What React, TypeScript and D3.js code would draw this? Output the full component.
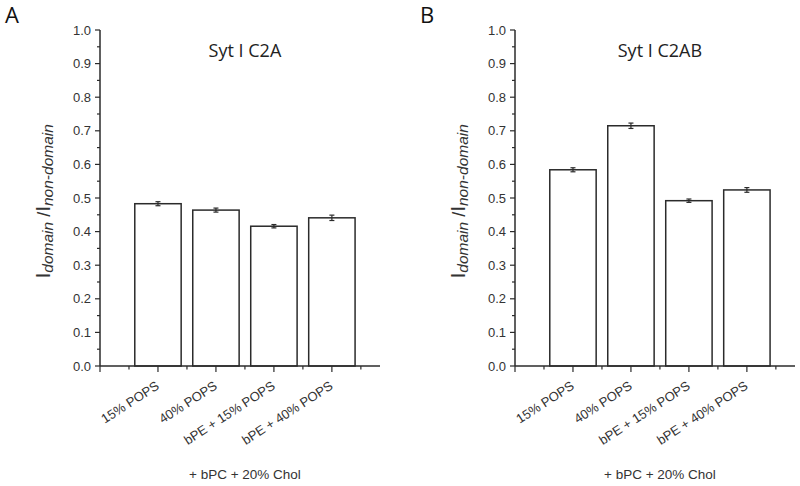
import React from "react";
import * as d3 from "d3";

const categories = ["15% POPS", "40% POPS", "bPE + 15% POPS", "bPE + 40% POPS"];
const valuesA = [0.483, 0.464, 0.416, 0.441];
const errorsA = [0.006, 0.006, 0.005, 0.008];
const valuesB = [0.584, 0.715, 0.492, 0.524];
const errorsB = [0.006, 0.008, 0.005, 0.007];
const yTicks = [0, 0.1, 0.2, 0.3, 0.4, 0.5, 0.6, 0.7, 0.8, 0.9, 1.0];
const titles = ["Syt I C2A", "Syt I C2AB"];
const panelLetters = ["A", "B"];
const xAxisTitle = "+ bPC + 20% Chol";

const STROKE = "#2b2b2b";
const TEXT = "#333";
const SANS = "'Liberation Sans', Arial, Helvetica, sans-serif";
const TITLE_FONT = "'Open Sans', sans-serif";

function Panel({ ox, values, errors, title, letter }: { ox: number; values: number[]; errors: number[]; title: string; letter: string }) {
  const top = 30;
  const bottom = 366;
  const x = d3.scaleLinear().domain([0, 4.83]).range([ox, ox + 280]);
  const y = d3.scaleLinear().domain([0, 1]).range([bottom, top]);
  const barW = x(0.8) - x(0);
  const minorY = d3.range(0.05, 1.0, 0.1);
  const majorX = [0, 1, 2, 3, 4];
  const minorX = [0.5, 1.5, 2.5, 3.5, 4.5];
  return (
    <g>
      <text x={ox - 95} y={23} style={{ fontFamily: TITLE_FONT }} fontSize={22} fill="#111">{letter}</text>
      <text x={x(2.5)} y={57} textAnchor="middle" style={{ fontFamily: TITLE_FONT }} fontSize={18} fill="#222">{title}</text>
      {values.map((v, i) => (
        <g key={i}>
          <rect x={x(i + 1) - barW / 2} y={y(v)} width={barW} height={y(0) - y(v)} fill="#fff" stroke={STROKE} strokeWidth={1.5} />
          <line x1={x(i + 1)} x2={x(i + 1)} y1={y(v + errors[i])} y2={y(v - errors[i])} stroke={STROKE} strokeWidth={1.2} />
          <line x1={x(i + 1) - 2.5} x2={x(i + 1) + 2.5} y1={y(v + errors[i])} y2={y(v + errors[i])} stroke={STROKE} strokeWidth={1.2} />
          <line x1={x(i + 1) - 2.5} x2={x(i + 1) + 2.5} y1={y(v - errors[i])} y2={y(v - errors[i])} stroke={STROKE} strokeWidth={1.2} />
        </g>
      ))}
      <line x1={ox} x2={ox} y1={y(1)} y2={y(0)} stroke={STROKE} strokeWidth={1.5} />
      <line x1={ox} x2={x(4.83)} y1={y(0)} y2={y(0)} stroke={STROKE} strokeWidth={1.5} />
      {yTicks.map((t) => (
        <g key={t}>
          <line x1={ox - 5} x2={ox} y1={y(t)} y2={y(t)} stroke={STROKE} strokeWidth={1.2} />
          <text x={ox - 9} y={y(t) + 4.5} textAnchor="end" style={{ fontFamily: SANS }} fontSize={13} fill={TEXT}>{t.toFixed(1)}</text>
        </g>
      ))}
      {minorY.map((t) => (
        <line key={t} x1={ox - 3} x2={ox} y1={y(t)} y2={y(t)} stroke={STROKE} strokeWidth={1.2} />
      ))}
      {majorX.map((t) => (
        <line key={t} x1={x(t)} x2={x(t)} y1={y(0)} y2={y(0) + 6} stroke={STROKE} strokeWidth={1.2} />
      ))}
      {minorX.map((t) => (
        <line key={t} x1={x(t)} x2={x(t)} y1={y(0)} y2={y(0) + 3.5} stroke={STROKE} strokeWidth={1.2} />
      ))}
      {categories.map((c, i) => (
        <text key={c} transform={`translate(${x(i + 1) + 2},${y(0) + 22}) rotate(-33)`} textAnchor="end" style={{ fontFamily: SANS }} fontSize={13} fill={TEXT}>{c}</text>
      ))}
      <text x={x(2.5)} y={479} textAnchor="middle" style={{ fontFamily: SANS }} fontSize={13.5} fill={TEXT}>{xAxisTitle}</text>
      <text transform={`translate(${ox - 50},${y(0.49)}) rotate(-90)`} textAnchor="middle" style={{ fontFamily: SANS }} fill={TEXT}>
        <tspan fontSize={21}>I</tspan>
        <tspan fontSize={15.5} fontStyle="italic" dy={3}>domain</tspan>
        <tspan fontSize={18} dy={-3}> /</tspan>
        <tspan fontSize={21}>I</tspan>
        <tspan fontSize={15.5} fontStyle="italic" dy={3}>non-domain</tspan>
      </text>
    </g>
  );
}

export default function App() {
  return (
    <svg width={800} height={486} style={{ position: "absolute", left: 0, top: 0, background: "#fff" }}>
      <rect width={800} height={486} fill="#fff" />
      <Panel ox={100} values={valuesA} errors={errorsA} title={titles[0]} letter={panelLetters[0]} />
      <Panel ox={515} values={valuesB} errors={errorsB} title={titles[1]} letter={panelLetters[1]} />
    </svg>
  );
}
